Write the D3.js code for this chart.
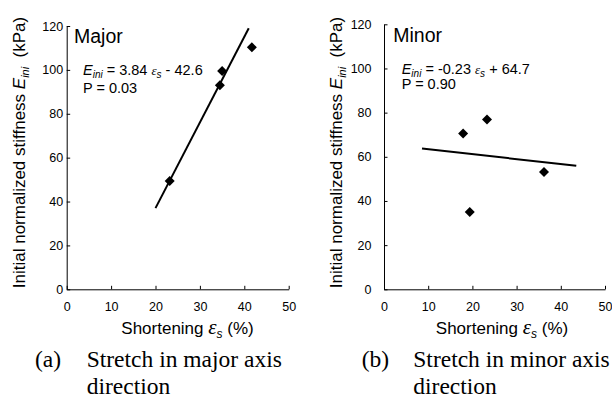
<!DOCTYPE html>
<html>
<head>
<meta charset="utf-8">
<script src="https://cdn.jsdelivr.net/npm/d3@7/dist/d3.min.js"></script>
<style>
  html, body { margin: 0; padding: 0; background: #fff; }
  svg { display: block; }
  text { font-family: "Liberation Sans", Arial, sans-serif; fill: #000; }
</style>
</head>
<body>
<svg id="chart" width="612" height="398"></svg>
<script>
// ---- data ----
const xTicks = [0, 10, 20, 30, 40, 50];
const yTicks = [0, 20, 40, 60, 80, 100, 120];

const majorShortening = [23.2, 34.5, 35.0, 41.7];
const majorStiffness  = [49.4, 93.0, 99.5, 110.3];
const majorFitX = [20, 41];
const majorFitY = [37, 119];

const minorShortening = [17.9, 19.4, 23.3, 36.2];
const minorStiffness  = [70.6, 35.0, 76.9, 53.1];
const minorFitX = [8.6, 43.5];
const minorFitY = [63.8, 55.9];

const panels = [
  { name: "Major", xs: majorShortening, ys: majorStiffness, fx: majorFitX, fy: majorFitY,
    coef: "3.84", sign: "-", icpt: "42.6", p: "P = 0.03",
    letter: "(a)", cap1: "Stretch in major axis", cap2: "direction",
    x0: 66.7, x1: 288.7, yTop: 26, yBot: 289.3, yPad: 3.5,
    nameX: 74, nameY: 43, eqX: 83, eqY: 75, pY: 92.5,
    yTitleX: 25, yTitleY: 152.5, xTitleX: 187.5,
    letterX: 35, capX: 86.7 },
  { name: "Minor", xs: minorShortening, ys: minorStiffness, fx: minorFitX, fy: minorFitY,
    coef: "-0.23", sign: "+", icpt: "64.7", p: "P = 0.90",
    letter: "(b)", cap1: "Stretch in minor axis", cap2: "direction",
    x0: 384, x1: 605, yTop: 24.3, yBot: 289.3, yPad: 12.5,
    nameX: 393.3, nameY: 41.7, eqX: 401.7, eqY: 73.5, pY: 89,
    yTitleX: 342, yTitleY: 152.5, xTitleX: 502,
    letterX: 361.7, capX: 413.3 }
];

const svg = d3.select("#chart");

panels.forEach(p => {
  const x = d3.scaleLinear().domain([0, 50]).range([p.x0, p.x1]);
  const y = d3.scaleLinear().domain([0, 120]).range([p.yBot, p.yTop]);
  const g = svg.append("g");

  // axes with inward ticks
  const xa = g.append("g").attr("transform", `translate(0,${p.yBot})`)
    .call(d3.axisBottom(x).tickValues(xTicks).tickSize(-3.5).tickPadding(12.5).tickSizeOuter(0));
  const ya = g.append("g").attr("transform", `translate(${p.x0},0)`)
    .call(d3.axisLeft(y).tickValues(yTicks).tickSize(-3.5).tickPadding(p.yPad).tickSizeOuter(0));
  [xa, ya].forEach(a => {
    a.select(".domain").attr("stroke", "#000").attr("stroke-width", 1);
    a.selectAll(".tick line").attr("stroke", "#000").attr("stroke-width", 1);
    a.selectAll(".tick text").attr("font-size", 12.5)
      .attr("font-family", "'Liberation Sans', Arial, sans-serif").attr("fill", "#000");
  });

  // regression line
  g.append("line")
    .attr("x1", x(p.fx[0])).attr("y1", y(p.fy[0]))
    .attr("x2", x(p.fx[1])).attr("y2", y(p.fy[1]))
    .attr("stroke", "#000").attr("stroke-width", 2);

  // diamonds
  const r = 5;
  g.selectAll("path.pt").data(p.xs.map((v, i) => [v, p.ys[i]])).enter()
    .append("path").attr("class", "pt")
    .attr("d", d => {
      const cx = x(d[0]), cy = y(d[1]);
      return `M${cx},${cy - r}L${cx + r},${cy}L${cx},${cy + r}L${cx - r},${cy}Z`;
    })
    .attr("fill", "#000");

  // panel name
  g.append("text").attr("x", p.nameX).attr("y", p.nameY).attr("font-size", 19.5).text(p.name);

  // equation
  const eq = g.append("text").attr("x", p.eqX).attr("y", p.eqY).attr("font-size", 14.5);
  eq.append("tspan").attr("font-style", "italic").text("E");
  eq.append("tspan").attr("font-style", "italic").attr("font-size", 10).attr("dy", 3).text("ini");
  eq.append("tspan").attr("dy", -3).text(" = " + p.coef + " ");
  eq.append("tspan").attr("font-style", "italic").attr("font-family", "'Liberation Serif', serif").attr("font-size", 13).text("ε");
  eq.append("tspan").attr("font-style", "italic").attr("font-size", 10).attr("dy", 3).text("s");
  eq.append("tspan").attr("dy", -3).text(" " + p.sign + " " + p.icpt);
  g.append("text").attr("x", p.eqX).attr("y", p.pY).attr("font-size", 14.5).text(p.p);

  // y title
  const yt = g.append("text")
    .attr("transform", `translate(${p.yTitleX},${p.yTitleY}) rotate(-90)`)
    .attr("text-anchor", "middle").attr("font-size", 17);
  yt.append("tspan").text("Initial normalized stiffness ");
  yt.append("tspan").attr("font-style", "italic").text("E");
  yt.append("tspan").attr("font-style", "italic").attr("font-size", 11).attr("dy", 3.5).text("ini");
  yt.append("tspan").attr("dy", -3.5).text("\u00a0\u00a0(kPa)");

  // x title
  const xt = g.append("text").attr("x", p.xTitleX).attr("y", 334)
    .attr("text-anchor", "middle").attr("font-size", 17);
  xt.append("tspan").text("Shortening ");
  xt.append("tspan").attr("font-style", "italic").attr("font-family", "'Liberation Serif', serif").attr("font-size", 21).text("ε");
  xt.append("tspan").attr("font-style", "italic").attr("font-size", 12).attr("dy", 4).text("s");
  xt.append("tspan").attr("dy", -4).text(" (%)");

  // caption
  const serif = "'Liberation Serif', 'Times New Roman', serif";
  g.append("text").attr("x", p.letterX).attr("y", 367).attr("font-size", 23.5)
    .style("font-family", serif).text(p.letter);
  g.append("text").attr("x", p.capX).attr("y", 367).attr("font-size", 23.5)
    .style("font-family", serif).text(p.cap1);
  g.append("text").attr("x", p.capX).attr("y", 393.5).attr("font-size", 23.5)
    .style("font-family", serif).text(p.cap2);
});
</script>
</body>
</html>
